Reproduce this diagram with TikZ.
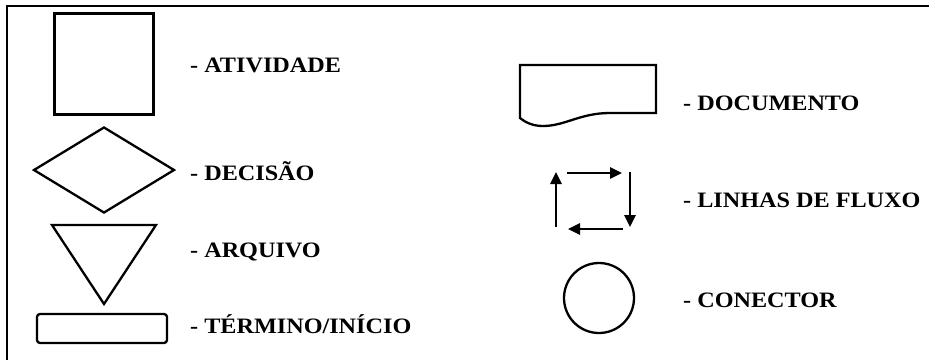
\documentclass[tikz,border=0pt]{standalone}
\usepackage{fontspec}
\setmainfont{Liberation Serif}
\usetikzlibrary{shapes.geometric,arrows.meta}

\tikzset{
  symb/.style={draw, line width=2.3pt, inner sep=0pt},
  legend/.style={anchor=base west, inner sep=0pt,
    font=\fontsize{22}{22}\selectfont\bfseries\addfontfeatures{FakeStretch=1.1}},
  flow/.style={line width=2.6pt, -{Triangle[length=12pt,width=11pt]}}
}

\begin{document}
\begin{tikzpicture}[x=1pt,y=-1pt]
    \useasboundingbox (0,0) rectangle (929,360);

    % Frame
    \draw[line width=1.5pt] (7,360) -- (7,6) -- (929,6);

    % Left column symbols
    \node[symb, minimum width=99pt, minimum height=101pt] (ativ) at (104,64) {};
    \node[symb, diamond, aspect=1.64, minimum width=141pt, minimum height=86pt] (dec) at (104,170) {};
    \draw[symb, line join=miter] (52,225) -- (156,225) -- (104,304) -- cycle;
    \node[symb, rounded corners=3pt, minimum width=130pt, minimum height=29pt] (term) at (102,328.5) {};

    % Left column labels
    \node[legend] (l1) at (190,72) {- ATIVIDADE};
    \node[legend] (l2) at (190,180) {- DECISÃO};
    \node[legend] (l3) at (190,257) {- ARQUIVO};
    \node[legend] (l4) at (190,333) {- TÉRMINO/INÍCIO};

    % Document
    \draw[symb] (656,113) -- (656,65) -- (520,65) -- (520,118)
        .. controls (525,122) and (532,126) .. (543,126)
        .. controls (565,126) and (580,113) .. (610,113) -- cycle;

    % Flow lines
    \coordinate (f1) at (556,227);
    \coordinate (f2) at (556,172);
    \coordinate (f3) at (567,173);
    \coordinate (f4) at (622,173);
    \coordinate (f5) at (630,172);
    \coordinate (f6) at (630,227);
    \coordinate (f7) at (623,229);
    \coordinate (f8) at (568,229);
    \draw[flow] (f1) -- (f2);
    \draw[flow] (f3) -- (f4);
    \draw[flow] (f5) -- (f6);
    \draw[flow] (f7) -- (f8);

    % Connector
    \node[symb, circle, minimum size=70pt] (con) at (599,298) {};

    % Right column labels
    \node[legend] (r1) at (683,110) {- DOCUMENTO};
    \node[legend] (r2) at (683,207) {- LINHAS DE FLUXO};
    \node[legend] (r3) at (683,307) {- CONECTOR};
\end{tikzpicture}
\end{document}
